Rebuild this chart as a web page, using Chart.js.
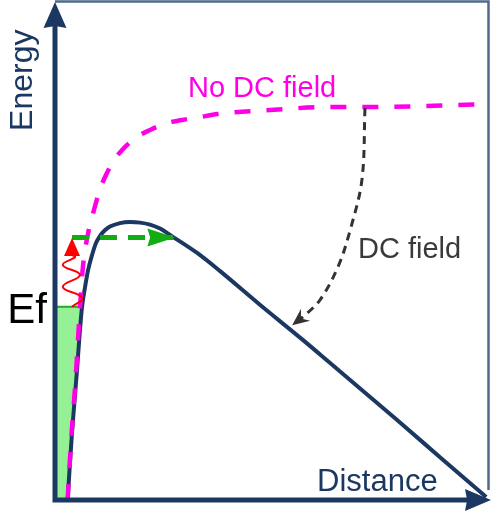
<!DOCTYPE html>
<html><head><meta charset="utf-8">
<script src="https://cdn.jsdelivr.net/npm/chart.js@4"></script>
<style>html,body{margin:0;padding:0;background:#fff;overflow:hidden}canvas{display:block}</style>
</head><body>
<canvas id="c" width="491" height="512"></canvas>
<script>
// Band-energy diagram data (distance 0..100, energy 0..100, arbitrary units)
const dcFieldX = [2.9, 3.4, 3.9, 4.5, 5.1, 5.6, 6.2, 6.9, 7.6, 8.5, 9.4, 10.3, 11.5, 12.6, 14.9, 17.2, 19.5, 21.8, 24.1, 27.1, 32.6, 37.8, 47.0, 56.9, 63.1, 78.4, 88.3, 98.9];
const dcFieldY = [0, 7.0, 13.5, 20.1, 26.7, 32.7, 38.8, 42.8, 46.2, 49.2, 51.6, 53.0, 54.2, 54.9, 55.6, 55.8, 55.7, 55.3, 54.5, 52.8, 49.6, 46.0, 39.2, 32.1, 27.5, 16.1, 8.6, 0.6];
const noFieldX = [2.9, 3.7, 4.6, 5.7, 6.4, 7.6, 8.5, 10.3, 11.5, 13.3, 15.4, 18.8, 21.8, 25.7, 29.1, 33.3, 37.2, 49.3, 62.4, 71.6, 99.8];
const noFieldY = [0, 12.0, 22.7, 38.2, 46.8, 53.6, 56.8, 62.3, 64.9, 67.9, 70.3, 72.9, 74.3, 75.7, 76.3, 76.9, 77.5, 78.3, 78.9, 78.9, 79.5];
const fermiLevel = 38.8;
const photonX = [3.9, 6.2, 1.8, 5.7, 1.8, 4.6, 3.9];
const photonY = [38.8, 40.6, 42.8, 45.2, 47.2, 48.8, 49.2];
const photonTip = [3.9, 52.6];
const hotElectronX = [3.9, 27.6];
const hotElectronY = [52.7, 52.7];
const shiftX = [71.1, 70.4, 67.7, 64.9, 60.8, 56.9, 54.4];
const shiftY = [78.7, 64.3, 54.2, 46.8, 40.2, 36.8, 35.1];
const labelTexts = ['Energy', 'Distance', 'No DC field', 'DC field', 'Ef'];

const pts = (xs, ys) => xs.map((v, i) => ({x: v, y: ys[i]}));

// filled electron sea: between axis and DC-field barrier, below Fermi level
function fermiFill() {
  const out = [{x: 0, y: 0}];
  for (let i = 0; i < dcFieldX.length; i++) {
    if (dcFieldY[i] <= fermiLevel) out.push({x: dcFieldX[i], y: dcFieldY[i]});
    else {
      const x0 = dcFieldX[i-1], y0 = dcFieldY[i-1];
      const t = (fermiLevel - y0) / (dcFieldY[i] - y0);
      if (t > 0) out.push({x: x0 + t * (dcFieldX[i] - x0), y: fermiLevel});
      break;
    }
  }
  out.push({x: 0, y: fermiLevel});
  return out;
}
const fillPts = fermiFill();
const fermiEdgeX = fillPts[fillPts.length - 2].x;

const NAVY = '#1b3862';

function head(ctx, tx, ty, ang, len, half, notch, color) {
  ctx.save();
  ctx.translate(tx, ty); ctx.rotate(ang);
  ctx.beginPath();
  ctx.moveTo(0, 0);
  ctx.lineTo(-len, -half);
  ctx.lineTo(-len * (1 - notch), 0);
  ctx.lineTo(-len, half);
  ctx.closePath();
  ctx.fillStyle = color; ctx.fill();
  ctx.restore();
}

const overlay = {
  id: 'overlay',
  afterDatasetsDraw(chart) {
    const {ctx, scales: {x, y}} = chart;
    const X = v => x.getPixelForValue(v), Y = v => y.getPixelForValue(v);
    ctx.save();
    // frame
    ctx.strokeStyle = '#50698c'; ctx.lineWidth = 2.5;
    ctx.beginPath();
    ctx.moveTo(X(0), Y(100) - 0.5);
    ctx.lineTo(X(100) - 2.5, Y(100) - 0.5);
    ctx.lineTo(X(100) - 2.5, Y(0) - 10);
    ctx.stroke();
    // axes
    ctx.strokeStyle = NAVY; ctx.lineWidth = 5; ctx.lineCap = 'butt';
    ctx.beginPath();
    ctx.moveTo(X(0), Y(0) + 2.5); ctx.lineTo(X(0), Y(100) + 22);
    ctx.moveTo(X(0) - 2.5, Y(0)); ctx.lineTo(X(100) - 22, Y(0));
    ctx.stroke();
    head(ctx, X(0), Y(100), -Math.PI / 2, 26, 11.5, 0.08, NAVY);
    head(ctx, X(100), Y(0), 0, 26, 11, 0.08, NAVY);
    // arrowheads
    head(ctx, X(hotElectronX[1]), Y(hotElectronY[1]), 0, 28, 9, 0.1, '#13ad13');
    head(ctx, X(photonTip[0]), Y(photonTip[1]), -Math.PI / 2, 18, 8, 0, '#ff0000');
    const n = shiftX.length;
    const ax = X(shiftX[n-1]) - X(shiftX[n-2]), ay = Y(shiftY[n-1]) - Y(shiftY[n-2]);
    head(ctx, X(shiftX[n-1]), Y(shiftY[n-1]), Math.atan2(ay, ax), 17, 7.5, 0.35, '#333333');
    // texts
    ctx.textBaseline = 'alphabetic';
    ctx.fillStyle = NAVY;
    ctx.font = '32px "Liberation Sans", Arial, sans-serif';
    ctx.save();
    ctx.translate(X(0) - 23, Y(84.3)); ctx.rotate(-Math.PI / 2);
    ctx.textAlign = 'center';
    ctx.fillText(labelTexts[0], 0, 0);
    ctx.restore();
    ctx.textAlign = 'left';
    ctx.font = '31px "Liberation Sans", Arial, sans-serif';
    ctx.fillText(labelTexts[1], X(60.1), Y(1.8));
    ctx.fillStyle = '#ff00e6';
    ctx.font = '29px "Liberation Sans", Arial, sans-serif';
    ctx.fillText(labelTexts[2], X(30.5), Y(80.9));
    ctx.fillStyle = '#3a3a3a';
    ctx.fillText(labelTexts[3], X(69.5), Y(48.6));
    ctx.fillStyle = '#000000';
    ctx.font = '42px "Liberation Sans", Arial, sans-serif';
    ctx.textAlign = 'right';
    ctx.fillText(labelTexts[4], X(0) - 8, Y(fermiLevel) + 16);
    ctx.restore();
  }
};

new Chart(document.getElementById('c'), {
  type: 'scatter',
  data: {
    datasets: [
      {data: fillPts, showLine: true, fill: 'shape', backgroundColor: '#96f096', borderWidth: 0, pointRadius: 0, tension: 0, order: 10, clip: false},
      {data: [{x: 0, y: fermiLevel}, {x: fermiEdgeX, y: fermiLevel}], showLine: true, borderColor: '#22aa22', borderWidth: 2, pointRadius: 0, order: 9, clip: false},
      {data: pts(dcFieldX, dcFieldY), showLine: true, borderColor: NAVY, borderWidth: 4, pointRadius: 0, cubicInterpolationMode: 'monotone', order: 6, clip: false},
      {data: pts(noFieldX, noFieldY), showLine: true, borderColor: '#ff00e6', borderWidth: 4.5, borderDash: [16, 16], pointRadius: 0, cubicInterpolationMode: 'monotone', order: 5, clip: false},
      {data: pts(hotElectronX, hotElectronY), showLine: true, borderColor: '#13ad13', borderWidth: 5, borderDash: [17, 11], pointRadius: 0, order: 4, clip: false},
      {data: pts(photonX, photonY), showLine: true, borderColor: '#ff0000', borderWidth: 2, pointRadius: 0, tension: 0.45, order: 3, clip: false},
      {data: pts(shiftX, shiftY), showLine: true, borderColor: '#333333', borderWidth: 3, borderDash: [8, 6], pointRadius: 0, tension: 0.35, order: 2, clip: false}
    ]
  },
  options: {
    responsive: false, animation: false, devicePixelRatio: 1,
    layout: {padding: {left: 55, right: 0, top: 2, bottom: 12}},
    scales: {
      x: {type: 'linear', min: 0, max: 100, display: false},
      y: {type: 'linear', min: 0, max: 100, display: false}
    },
    plugins: {legend: {display: false}, tooltip: {enabled: false}}
  },
  plugins: [overlay]
});
</script>
</body></html>
